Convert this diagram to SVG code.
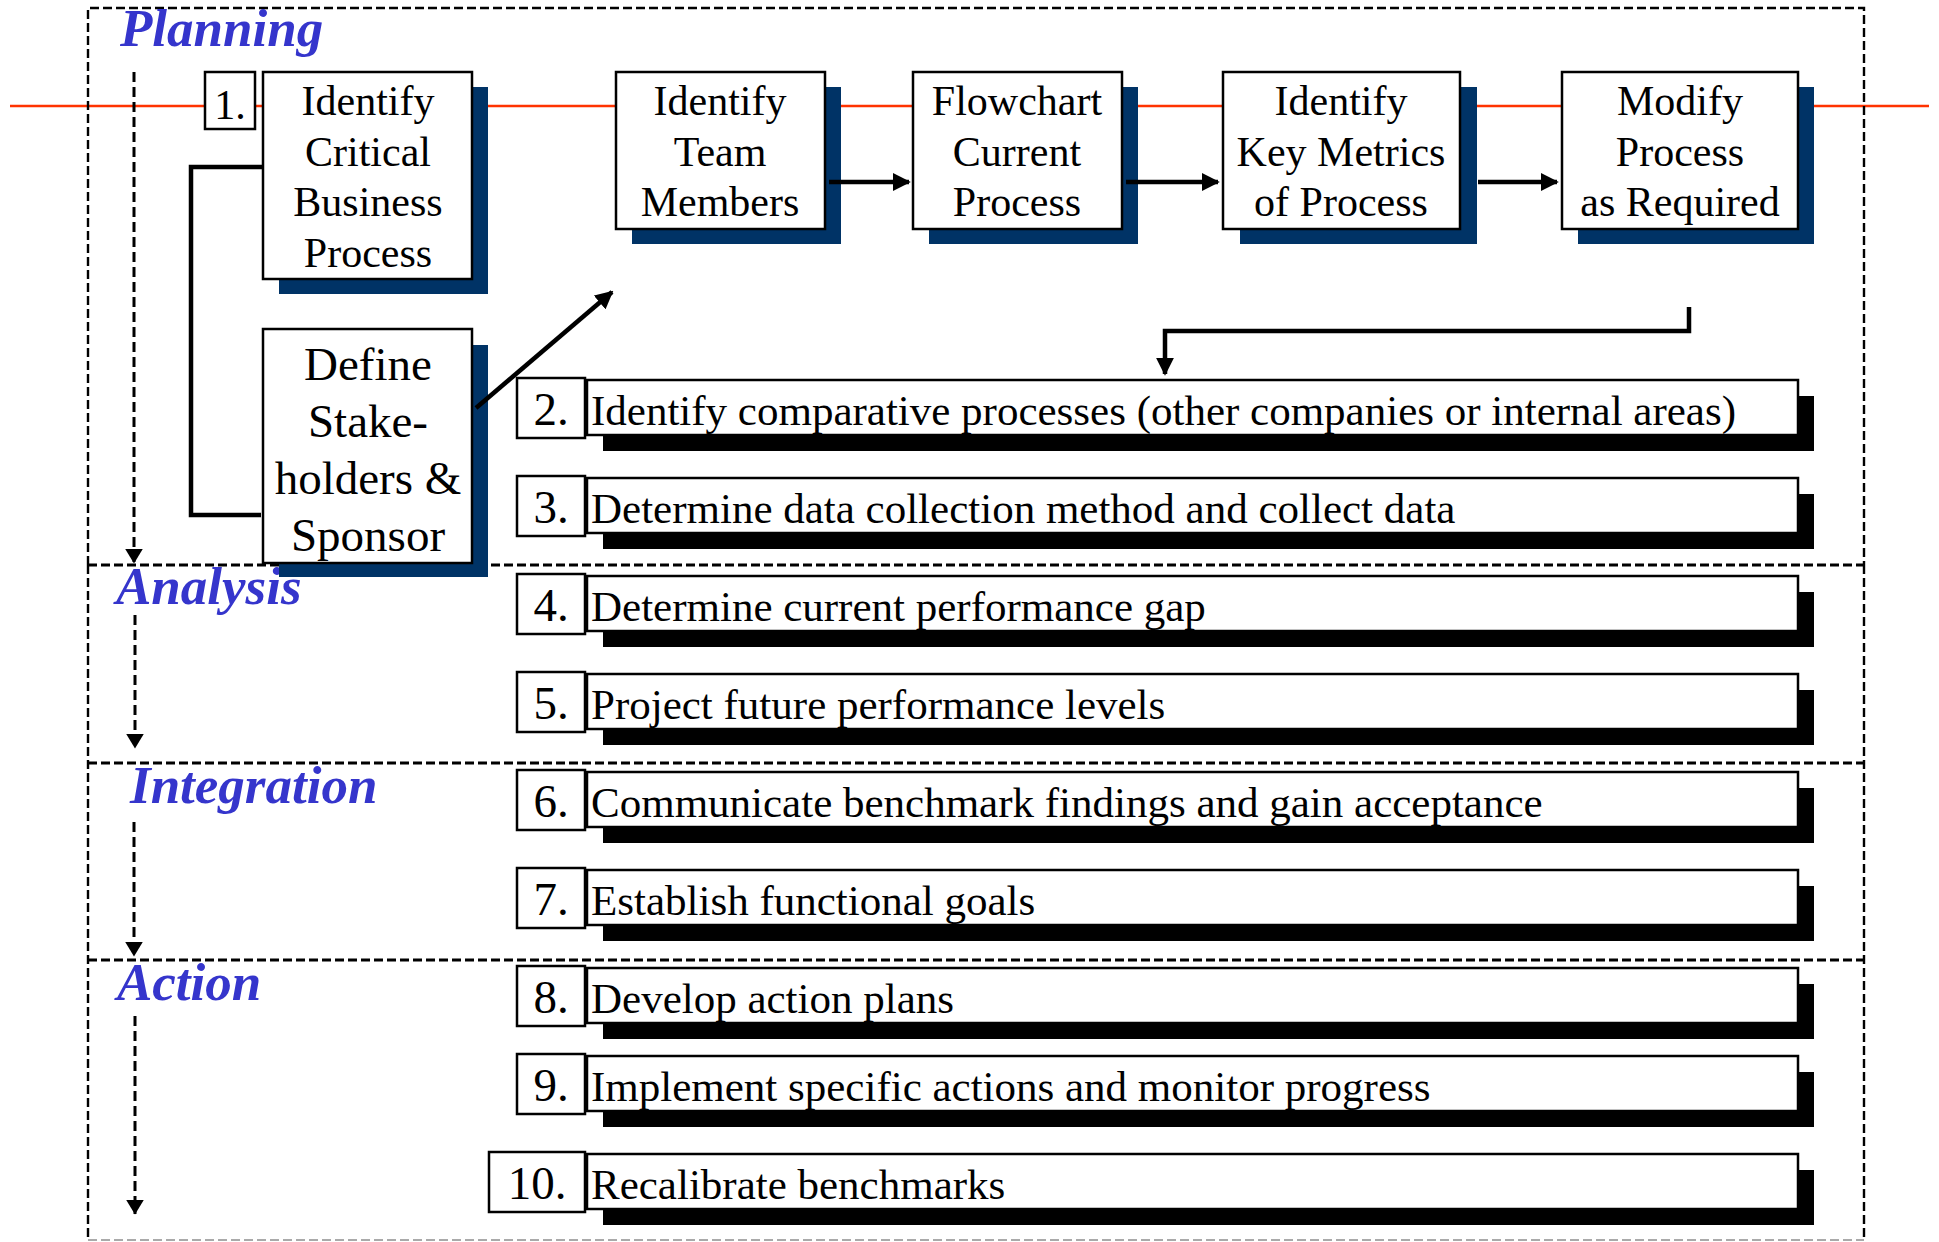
<svg xmlns="http://www.w3.org/2000/svg" width="1939" height="1242" viewBox="0 0 1939 1242">
<style>
.sec{fill:none;stroke:#000;stroke-width:2.4;stroke-dasharray:9 4}
.div{fill:none;stroke:#000;stroke-width:3.2;stroke-dasharray:9 4}
.head{font-family:"Liberation Serif","Times New Roman",serif;font-weight:bold;font-style:italic;font-size:53px;fill:#3535CC}
.box{fill:#fff;stroke:#000;stroke-width:2.5}
.nshadow{fill:#003366}
.bshadow{fill:#000}
.t{font-family:"Liberation Serif","Times New Roman",serif;font-size:42px;fill:#000;text-anchor:middle}
.td{font-family:"Liberation Serif","Times New Roman",serif;font-size:47px;fill:#000;text-anchor:middle}
.rt{font-family:"Liberation Serif","Times New Roman",serif;font-size:43px;fill:#000}
.rn{font-family:"Liberation Serif","Times New Roman",serif;font-size:47px;fill:#000;text-anchor:middle}
.vd{fill:none;stroke:#000;stroke-width:3;stroke-dasharray:10 5}
.conn{fill:none;stroke:#000;stroke-width:4.5}
</style>
<defs>
<marker id="ah" markerWidth="4" markerHeight="4" refX="3.6" refY="2" orient="auto" markerUnits="strokeWidth">
<path d="M0,0 L4,2 L0,4 Z" fill="#000"/>
</marker>
<marker id="ahs" markerWidth="5" markerHeight="6" refX="4.8" refY="3" orient="auto" markerUnits="strokeWidth">
<path d="M0,0 L5,3 L0,6 Z" fill="#000"/>
</marker>
</defs>
<rect width="1939" height="1242" fill="#fff"/>

<!-- red line -->
<line x1="10" y1="106" x2="1929" y2="106" stroke="#FF3300" stroke-width="2.5"/>

<!-- section frames -->
<g id="sections">
<path class="sec" d="M88,565 V8 H1864 V565"/>
<path class="sec" d="M88,565 V1240"/>
<path class="sec" d="M1864,565 V1240"/>
<line class="div" x1="88" y1="565" x2="1864" y2="565"/>
<line class="div" x1="88" y1="763" x2="1864" y2="763"/>
<line class="div" x1="88" y1="960" x2="1864" y2="960"/>
<line x1="88" y1="1240" x2="1864" y2="1240" stroke="#aaa" stroke-width="2" stroke-dasharray="9 4"/>
<text class="head" x="120" y="46">Planning</text>
<text class="head" x="116" y="604">Analysis</text>
<text class="head" x="130" y="803">Integration</text>
<text class="head" x="117" y="1000">Action</text>
</g>

<!-- top boxes -->
<g id="n1num">
<rect class="box" x="205" y="72" width="50" height="57"/>
<text class="t" x="230" y="119">1.</text>
</g>
<g id="n1">
<rect class="nshadow" x="279" y="87" width="209" height="207"/>
<rect class="box" x="263" y="72" width="209" height="207"/>
<text class="t" x="368" y="115">Identify</text>
<text class="t" x="368" y="166">Critical</text>
<text class="t" x="368" y="216">Business</text>
<text class="t" x="368" y="267">Process</text>
</g>
<g id="nDefine">
<rect class="nshadow" x="279" y="345" width="209" height="232"/>
<rect class="box" x="263" y="329" width="209" height="234"/>
<text class="td" x="368" y="380">Define</text>
<text class="td" x="368" y="437">Stake-</text>
<text class="td" x="368" y="494">holders &amp;</text>
<text class="td" x="368" y="551">Sponsor</text>
</g>
<g id="nTeam">
<rect class="nshadow" x="632" y="87" width="209" height="157"/>
<rect class="box" x="616" y="72" width="209" height="157"/>
<text class="t" x="720" y="115">Identify</text>
<text class="t" x="720" y="166">Team</text>
<text class="t" x="720" y="216">Members</text>
</g>
<g id="nFlow">
<rect class="nshadow" x="929" y="87" width="209" height="157"/>
<rect class="box" x="913" y="72" width="209" height="157"/>
<text class="t" x="1017" y="115">Flowchart</text>
<text class="t" x="1017" y="166">Current</text>
<text class="t" x="1017" y="216">Process</text>
</g>
<g id="nKey">
<rect class="nshadow" x="1240" y="87" width="237" height="157"/>
<rect class="box" x="1223" y="72" width="237" height="157"/>
<text class="t" x="1341" y="115">Identify</text>
<text class="t" x="1341" y="166">Key Metrics</text>
<text class="t" x="1341" y="216">of Process</text>
</g>
<g id="nModify">
<rect class="nshadow" x="1578" y="87" width="236" height="157"/>
<rect class="box" x="1562" y="72" width="236" height="157"/>
<text class="t" x="1680" y="115">Modify</text>
<text class="t" x="1680" y="166">Process</text>
<text class="t" x="1680" y="216">as Required</text>
</g>

<!-- steps -->
<g id="s2">
<rect class="bshadow" x="603" y="396" width="1211" height="55"/>
<rect class="box" x="587" y="380" width="1211" height="55"/>
<rect class="box" x="517" y="378" width="68" height="60"/>
<text class="rn" x="551" y="425">2.</text>
<text class="rt" x="591" y="425">Identify comparative processes (other companies or internal areas)</text>
</g>
<g id="s3">
<rect class="bshadow" x="603" y="494" width="1211" height="55"/>
<rect class="box" x="587" y="478" width="1211" height="55"/>
<rect class="box" x="517" y="476" width="68" height="60"/>
<text class="rn" x="551" y="523">3.</text>
<text class="rt" x="591" y="523">Determine data collection method and collect data</text>
</g>
<g id="s4">
<rect class="bshadow" x="603" y="592" width="1211" height="55"/>
<rect class="box" x="587" y="576" width="1211" height="55"/>
<rect class="box" x="517" y="574" width="68" height="60"/>
<text class="rn" x="551" y="621">4.</text>
<text class="rt" x="591" y="621">Determine current performance gap</text>
</g>
<g id="s5">
<rect class="bshadow" x="603" y="690" width="1211" height="55"/>
<rect class="box" x="587" y="674" width="1211" height="55"/>
<rect class="box" x="517" y="672" width="68" height="60"/>
<text class="rn" x="551" y="719">5.</text>
<text class="rt" x="591" y="719">Project future performance levels</text>
</g>
<g id="s6">
<rect class="bshadow" x="603" y="788" width="1211" height="55"/>
<rect class="box" x="587" y="772" width="1211" height="55"/>
<rect class="box" x="517" y="770" width="68" height="60"/>
<text class="rn" x="551" y="817">6.</text>
<text class="rt" x="591" y="817">Communicate benchmark findings and gain acceptance</text>
</g>
<g id="s7">
<rect class="bshadow" x="603" y="886" width="1211" height="55"/>
<rect class="box" x="587" y="870" width="1211" height="55"/>
<rect class="box" x="517" y="868" width="68" height="60"/>
<text class="rn" x="551" y="915">7.</text>
<text class="rt" x="591" y="915">Establish functional goals</text>
</g>
<g id="s8">
<rect class="bshadow" x="603" y="984" width="1211" height="55"/>
<rect class="box" x="587" y="968" width="1211" height="55"/>
<rect class="box" x="517" y="966" width="68" height="60"/>
<text class="rn" x="551" y="1013">8.</text>
<text class="rt" x="591" y="1013">Develop action plans</text>
</g>
<g id="s9">
<rect class="bshadow" x="603" y="1072" width="1211" height="55"/>
<rect class="box" x="587" y="1056" width="1211" height="55"/>
<rect class="box" x="517" y="1054" width="68" height="60"/>
<text class="rn" x="551" y="1101">9.</text>
<text class="rt" x="591" y="1101">Implement specific actions and monitor progress</text>
</g>
<g id="s10">
<rect class="bshadow" x="603" y="1170" width="1211" height="55"/>
<rect class="box" x="587" y="1154" width="1211" height="55"/>
<rect class="box" x="489" y="1152" width="96" height="60"/>
<text class="rn" x="537" y="1199">10.</text>
<text class="rt" x="591" y="1199">Recalibrate benchmarks</text>
</g>

<!-- connectors -->
<g id="connectors">
<line class="vd" x1="134" y1="72" x2="134" y2="563" marker-end="url(#ahs)"/>
<line class="vd" x1="135" y1="615" x2="135" y2="748" marker-end="url(#ahs)"/>
<line class="vd" x1="134" y1="822" x2="134" y2="956" marker-end="url(#ahs)"/>
<line class="vd" x1="135" y1="1016" x2="135" y2="1214" marker-end="url(#ahs)"/>
<path class="conn" d="M262,167 H191 V515 H261"/>
<line class="conn" x1="476" y1="408" x2="612" y2="292" marker-end="url(#ah)"/>
<line class="conn" x1="829" y1="182" x2="909" y2="182" marker-end="url(#ah)"/>
<line class="conn" x1="1126" y1="182" x2="1218" y2="182" marker-end="url(#ah)"/>
<line class="conn" x1="1478" y1="182" x2="1557" y2="182" marker-end="url(#ah)"/>
<path class="conn" d="M1689,307 V331 H1165 V374" marker-end="url(#ah)"/>
</g>
</svg>
